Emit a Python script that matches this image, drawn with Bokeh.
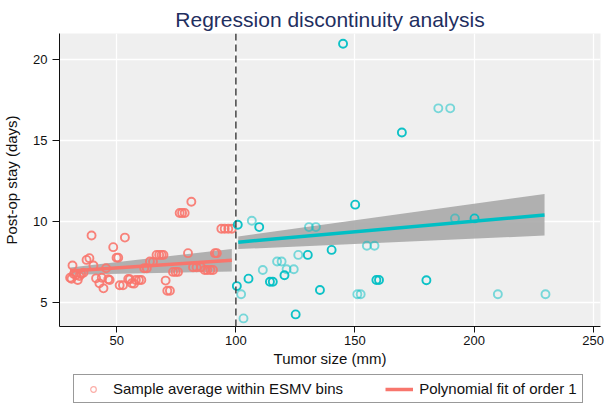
from bokeh.plotting import figure
from bokeh.layouts import column
from bokeh.models import ColumnDataSource, Span, Legend, LegendItem, Range1d, FixedTicker
from bokeh.embed import file_html
from bokeh.resources import INLINE

# ---- data ----
cutoff = 100
x_ticks = [50, 100, 150, 200, 250]
y_ticks = [5, 10, 15, 20]

left_x = [30.4, 31.0, 31.4, 32.0, 32.9, 33.6, 34.3, 35.0, 36.0, 37.3, 38.5, 39.4,
          40.2, 41.3, 42.7, 43.7, 44.4, 45.5, 46.4, 47.0, 48.5, 49.9, 50.6, 51.2,
          52.6, 53.4, 54.8, 55.5, 56.3, 57.2, 58.0, 59.3, 60.3, 61.5, 62.6, 63.9,
          65.2, 66.7, 67.8, 68.8, 69.6, 70.5, 71.2, 72.3, 73.6, 74.7, 75.7, 76.4,
          77.4, 78.5, 79.9, 81.3, 82.0, 83.5, 85.4, 86.9, 88.0, 89.3, 90.4, 91.2,
          92.0, 93.9, 95.3, 96.8, 98.3]
left_y = [6.52, 6.45, 7.27, 6.75, 6.69, 6.38, 6.62, 6.75, 6.83, 7.62, 7.73, 9.13,
          7.27, 6.48, 6.17, 6.52, 5.86, 7.10, 6.42, 6.38, 8.41, 7.76, 7.76, 6.05,
          6.05, 9.00, 6.44, 6.42, 6.18, 6.15, 6.38, 6.38, 6.38, 7.10, 7.10, 7.52,
          7.50, 7.93, 7.93, 7.93, 7.93, 6.34, 5.71, 5.71, 6.88, 6.88, 6.88, 10.52,
          10.52, 10.52, 8.04, 11.22, 7.17, 7.17, 7.17, 7.00, 7.00, 7.00, 7.00, 8.04,
          8.04, 9.55, 9.55, 9.55, 9.55]

right_x = [100.4, 100.8, 102.2, 103.2, 105.3, 106.7, 109.8, 111.3, 114.3, 115.5,
           117.3, 119.2, 120.4, 121.3, 124.3, 125.1, 126.2, 130.2, 130.7, 133.6,
           135.3, 140.2, 145.0, 150.1, 151.0, 152.4, 155.0, 158.2, 159.0, 160.1,
           169.7, 180.0, 185.0, 190.0, 192.0, 200.2, 210.0, 230.0]
right_y = [6.00, 9.80, 5.50, 4.00, 6.46, 10.04, 9.65, 7.00, 6.27, 6.27,
           7.52, 7.52, 6.67, 7.04, 7.04, 4.25, 7.93, 7.93, 9.65, 9.65,
           5.76, 8.24, 21.0, 11.04, 5.50, 5.50, 8.50, 8.50, 6.38, 6.38,
           15.5, 6.36, 17.0, 17.0, 10.19, 10.19, 5.50, 5.50]
# 2 = dense bin (drawn darker), 1 = sparse bin (lighter)
right_w = [2, 2, 1, 1, 2, 1, 2, 1, 2, 2,
           1, 1, 2, 1, 1, 2, 1, 2, 1, 1,
           2, 2, 2, 2, 1, 1, 1, 1, 2, 2,
           2, 2, 1, 1, 1, 2, 1, 1]

left_fit_x = [30.4, 98.3]
left_fit_y = [6.93, 7.60]
left_ci_lo = [6.70, 6.90]
left_ci_hi = [7.15, 8.30]

right_fit_x = [101.0, 229.6]
right_fit_y = [8.72, 10.40]
right_ci_lo = [8.29, 9.13]
right_ci_hi = [9.07, 11.70]

legend_labels = ["Sample average within ESMV bins", "Polynomial fit of order 1"]

RED = "#F8766D"
TEAL = "#00BFC4"
FONT = "Liberation Sans"

p = figure(width=605, height=372, output_backend="svg", toolbar_location=None,
           x_range=Range1d(25.94, 253.1), y_range=Range1d(3.5, 21.63),
           min_border_left=57, min_border_right=5, min_border_top=33,
           min_border_bottom=46)
p.background_fill_color = "#efefef"
p.border_fill_color = "white"
p.outline_line_color = None

p.title.text = "Regression discontinuity analysis"
p.title.align = "center"
p.title.text_font = FONT
p.title.text_font_size = "21px"
p.title.text_font_style = "normal"
p.title.text_color = "#1f2f5f"
p.title.standoff = 5

for ax in (p.xaxis[0], p.yaxis[0]):
    ax.axis_line_color = "#111111"
    ax.axis_line_width = 1
    ax.major_tick_line_color = "#111111"
    ax.major_tick_out = 6
    ax.major_tick_in = 0
    ax.minor_tick_line_color = None
    ax.major_label_text_font = FONT
    ax.major_label_text_font_size = "13px"
    ax.major_label_text_color = "#111111"
    ax.axis_label_text_font = FONT
    ax.axis_label_text_font_size = "15px"
    ax.axis_label_text_font_style = "normal"
    ax.axis_label_text_color = "#111111"

p.xaxis.ticker = FixedTicker(ticks=x_ticks)
p.yaxis.ticker = FixedTicker(ticks=y_ticks)
p.xaxis.axis_label = "Tumor size (mm)"
p.yaxis.axis_label = "Post-op stay (days)"
p.xaxis.major_label_standoff = 3
p.xaxis.axis_label_standoff = 2
p.yaxis.major_tick_out = 7
p.yaxis.major_label_standoff = 5
p.yaxis.axis_label_standoff = 10

p.xgrid.ticker = FixedTicker(ticks=x_ticks)
p.ygrid.ticker = FixedTicker(ticks=y_ticks)
p.grid.grid_line_color = "white"
p.grid.grid_line_width = 1.3

# confidence bands
p.varea(x=left_fit_x, y1=left_ci_lo, y2=left_ci_hi, fill_color="#a4a4a4", fill_alpha=0.85)
p.varea(x=right_fit_x, y1=right_ci_lo, y2=right_ci_hi, fill_color="#a4a4a4", fill_alpha=0.85)

# binned points
p.scatter(left_x, left_y, marker="circle", size=8, fill_color=None,
          line_color=RED, line_width=1.9, line_alpha=0.9)
r_alpha = [0.95 if w > 1 else 0.5 for w in right_w]
src_r = ColumnDataSource(dict(x=right_x, y=right_y, a=r_alpha))
p.scatter("x", "y", source=src_r, marker="circle", size=8, fill_color=None,
          line_color=TEAL, line_width=1.9, line_alpha="a")

# fit lines
p.line(left_fit_x, left_fit_y, line_color=RED, line_width=3.5)
p.line(right_fit_x, right_fit_y, line_color=TEAL, line_width=3.5)

# cutoff
p.add_layout(Span(location=cutoff, dimension="height", line_color="#444444",
                  line_width=1.5, line_dash="7 4"))

# ---- legend strip below the chart (its frame is aligned with the chart's) ----
lf = figure(width=605, height=33, output_backend="svg", toolbar_location=None,
            x_range=Range1d(0, 1), y_range=Range1d(0, 1),
            x_axis_type=None, y_axis_type=None,
            min_border=0, min_border_left=0, min_border_right=0,
            min_border_top=0, min_border_bottom=0)
lf.outline_line_color = None
lf.background_fill_color = "white"
lf.border_fill_color = "white"
lf.title.visible = False

proxy = ColumnDataSource(dict(x=[-10.0], y=[-10.0]))
leg_pt = lf.scatter("x", "y", source=proxy, marker="circle", size=7, fill_color=None,
                    line_color=RED, line_width=1.2, line_alpha=0.6)
leg_ln = lf.line("x", "y", source=proxy, line_color=RED, line_width=3.5)
legend = Legend(items=[LegendItem(label=legend_labels[0], renderers=[leg_pt]),
                       LegendItem(label=legend_labels[1], renderers=[leg_ln])],
                orientation="horizontal", location=(14, 2),
                glyph_width=28, glyph_height=14, label_standoff=6, spacing=42,
                padding=5, margin=0,
                border_line_color="#333333", border_line_width=1,
                background_fill_color="white", background_fill_alpha=1,
                label_text_font=FONT, label_text_font_size="15px",
                label_text_color="#111111")
lf.add_layout(legend)

layout = column(p, lf, spacing=0)
open("out.html", "w").write(file_html(layout, INLINE))
